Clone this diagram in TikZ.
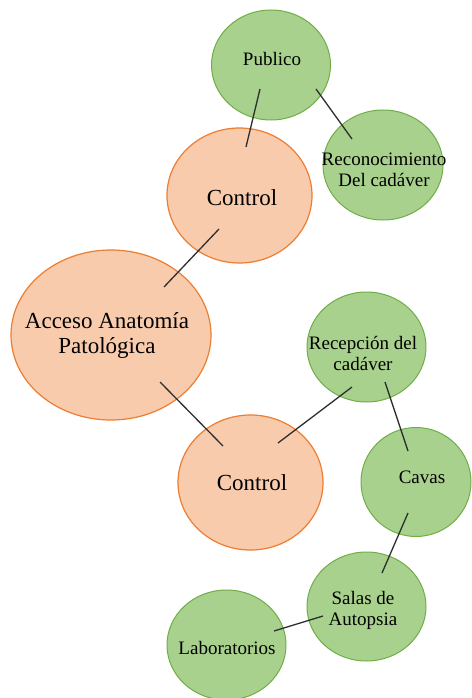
\documentclass[tikz,border=0pt]{standalone}
\usepackage{fontspec}
\setmainfont{Liberation Serif}
\usetikzlibrary{shapes.geometric,calc}
\definecolor{gfill}{HTML}{A9D18E}
\definecolor{gline}{HTML}{70AD47}
\definecolor{ofill}{HTML}{F8CBAD}
\definecolor{oline}{HTML}{ED7D31}
\definecolor{conn}{HTML}{2E2E2E}
\begin{document}
\begin{tikzpicture}[x=1pt,y=-1pt,
  gbub/.style={ellipse,draw=gline,fill=gfill,line width=1pt,inner sep=0pt},
  obub/.style={ellipse,draw=oline,fill=ofill,line width=1.2pt,inner sep=0pt},
  gtxt/.style={font=\fontsize{19}{21}\selectfont,align=center,inner sep=0pt},
  otxt/.style={font=\fontsize{23}{25}\selectfont,align=center,inner sep=0pt},
  link/.style={draw=conn,line width=1.3pt}]
\useasboundingbox (0,0) rectangle (471,698);
% bubbles
\node[gbub,minimum width=119pt,minimum height=110pt] (pub) at (271,65) {};
\node[gbub,minimum width=120pt,minimum height=110pt] (rec) at (383,165) {};
\node[obub,minimum width=145pt,minimum height=135pt] (ctl1) at (239.5,195.5) {};
\node[obub,minimum width=200pt,minimum height=170pt] (acc) at (111,335) {};
\node[gbub,minimum width=119pt,minimum height=110pt] (recep) at (366.5,347) {};
\node[obub,minimum width=145pt,minimum height=135pt] (ctl2) at (250.5,482.5) {};
\node[gbub,minimum width=110pt,minimum height=109pt] (cav) at (416,482) {};
\node[gbub,minimum width=119pt,minimum height=109pt] (sal) at (366.5,606.5) {};
\node[gbub,minimum width=119pt,minimum height=110pt] (lab) at (226.5,645) {};
% texts
\node[gtxt] (tpub) at (272,59) {Publico};
\node[gtxt] (trec) at (384,170) {Reconocimiento\\Del cadáver};
\node[otxt] (tctl1) at (242,198) {Control};
\node[otxt] (tacc) at (107,335) {Acceso Anatomía\\Patológica};
\node[gtxt] (trecep) at (363,353) {Recepción del\\cadáver};
\node[otxt] (tctl2) at (252,483) {Control};
\node[gtxt] (tcav) at (422,477) {Cavas};
\node[gtxt] (tsal) at (363,610) {Salas de\\Autopsia};
\node[gtxt] (tlab) at (227,648) {Laboratorios};
% connectors
\draw[link] ($(pub.center)+(-11,24)$) -- ($(ctl1.center)+(6.5,-48.5)$);
\draw[link] ($(pub.center)+(45,24)$) -- ($(rec.center)+(-31,-26)$);
\draw[link] ($(ctl1.center)+(-20.5,33.5)$) -- ($(acc.center)+(53,-48)$);
\draw[link] ($(acc.center)+(49,47)$) -- ($(ctl2.center)+(-27.5,-36.5)$);
\draw[link] ($(recep.center)+(-14.5,40)$) -- ($(ctl2.center)+(27.5,-39.5)$);
\draw[link] ($(recep.center)+(18.5,35)$) -- ($(cav.center)+(-8,-31)$);
\draw[link] ($(cav.center)+(-8,31)$) -- ($(sal.center)+(15.5,-33.5)$);
\draw[link] ($(sal.center)+(-43.5,9.5)$) -- ($(lab.center)+(47.5,-14)$);
\end{tikzpicture}
\end{document}
